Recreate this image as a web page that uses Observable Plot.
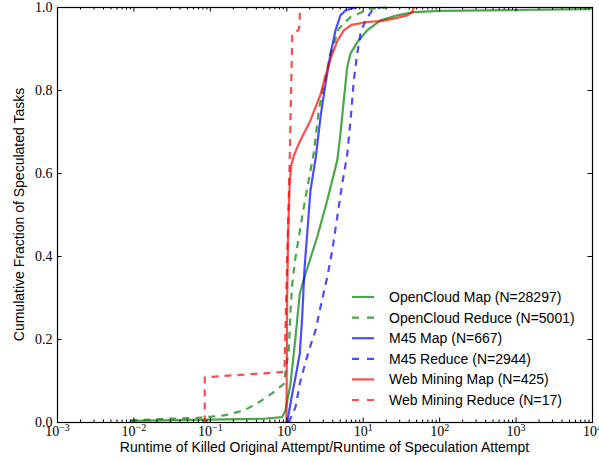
<!DOCTYPE html>
<html><head><meta charset="utf-8">
<script src="https://cdn.jsdelivr.net/npm/d3@7"></script>
<script src="https://cdn.jsdelivr.net/npm/@observablehq/plot@0.6"></script>
<style>
body{margin:0;background:#fff;}
#chart{position:relative;width:599px;height:461px;overflow:hidden;}
</style></head><body><div id="chart"></div>
<script>
// ---- data ----
const seriesNames = [
  "OpenCloud Map (N=28297)",
  "OpenCloud Reduce (N=5001)",
  "M45 Map (N=667)",
  "M45 Reduce (N=2944)",
  "Web Mining Map (N=425)",
  "Web Mining Reduce (N=17)"
];
const seriesColors = ["#008000", "#008000", "#0000ff", "#0000ff", "#ff0000", "#ff0000"];
const seriesDashed = [false, true, false, true, false, true];

const ocMapX = [0.009, 0.1, 0.5, 0.87, 0.96, 1.12, 1.30, 1.48, 1.76, 2.5, 3.38, 4.57, 5.04, 5.57, 6.17, 6.82, 8.34, 11.3, 16.8, 27.9, 45.9, 100, 1000, 9000, 10000];
const ocMapY = [0.004, 0.007, 0.009, 0.013, 0.029, 0.094, 0.205, 0.311, 0.359, 0.447, 0.535, 0.631, 0.696, 0.776, 0.856, 0.889, 0.916, 0.945, 0.969, 0.981, 0.989, 0.992, 0.994, 0.996, 1.0];

const ocRedX = [0.009, 0.027, 0.067, 0.149, 0.274, 0.41, 0.64, 0.914, 1.06, 1.12, 1.18, 1.30, 1.51, 1.76, 2.04, 2.26, 2.62, 3.21, 3.73, 4.80, 6.82, 9.70, 12.4, 20];
const ocRedY = [0.005, 0.009, 0.011, 0.017, 0.029, 0.046, 0.07, 0.093, 0.173, 0.27, 0.335, 0.398, 0.471, 0.543, 0.607, 0.65, 0.752, 0.832, 0.888, 0.949, 0.977, 0.989, 0.997, 1.0];

const m45MapX = [1.01, 1.18, 1.30, 1.48, 1.59, 1.71, 1.85, 2.04, 2.40, 2.76, 3.21, 3.73, 4.34, 5.04, 5.86, 7.93];
const m45MapY = [0.0, 0.07, 0.109, 0.166, 0.254, 0.374, 0.455, 0.559, 0.64, 0.736, 0.816, 0.888, 0.945, 0.981, 0.993, 1.0];

const m45RedX = [1.06, 1.30, 1.51, 1.94, 2.38, 2.76, 3.38, 3.93, 4.57, 5.31, 6.17, 6.82, 7.53, 8.34, 9.21, 10.7, 13.1, 16.8];
const m45RedY = [0.0, 0.037, 0.101, 0.173, 0.222, 0.278, 0.350, 0.414, 0.495, 0.575, 0.645, 0.728, 0.824, 0.888, 0.937, 0.969, 0.993, 1.0];

const wmMapX = [0.99, 1.01, 1.04, 1.09, 1.14, 1.25, 1.37, 1.51, 1.76, 2.04, 2.38, 2.76, 3.21, 3.8, 4.6, 5.57, 7.0, 11.3, 16.8, 25.1, 37.6, 43.7, 45.9];
const wmMapY = [0.0, 0.3, 0.45, 0.575, 0.619, 0.645, 0.663, 0.680, 0.704, 0.728, 0.760, 0.79, 0.835, 0.88, 0.92, 0.945, 0.958, 0.965, 0.967, 0.973, 0.981, 0.989, 1.0];

const wmRedX = [0.0845, 0.0845, 0.93, 1.09, 1.18, 1.30, 1.42, 1.48, 1.48];
const wmRedY = [0.0, 0.109, 0.122, 0.63, 0.937, 0.941, 0.945, 0.96, 1.0];

const seriesX = [ocMapX, ocRedX, m45MapX, m45RedX, wmMapX, wmRedX];
const seriesY = [ocMapY, ocRedY, m45MapY, m45RedY, wmMapY, wmRedY];

const xMajorTicks = [1e-3, 1e-2, 1e-1, 1e0, 1e1, 1e2, 1e3, 1e4];
const xTickExponents = ["\u22123", "\u22122", "\u22121", "0", "1", "2", "3", "4"];
const yTicks = [0.0, 0.2, 0.4, 0.6, 0.8, 1.0];
const xLabel = "Runtime of Killed Original Attempt/Runtime of Speculation Attempt";
const yLabel = "Cumulative Fraction of Speculated Tasks";

// ---- layout ----
const W = 599, H = 461, mL = 57, mR = 7, mT = 7, mB = 39;
const fh = H - mT - mB, fw = W - mL - mR;
const serif = "'Liberation Serif', 'DejaVu Serif', serif";
const sans = "'Liberation Sans', Arial, sans-serif";

const xMinorTicks = [];
for (let k = -3; k <= 3; k++) for (let m = 2; m <= 9; m++) xMinorTicks.push(m * Math.pow(10, k));

const lineMarks = seriesNames.map((name, i) => {
  const rows = seriesX[i].map((x, j) => ({x, y: seriesY[i][j]}));
  return Plot.line(rows, {
    x: "x", y: "y",
    stroke: seriesColors[i], strokeOpacity: 0.7, strokeWidth: 2.2,
    strokeDasharray: seriesDashed[i] ? "7,6" : null,
    strokeLinejoin: "round", strokeLinecap: "butt"
  });
});

const tickLabel = new Map(xMajorTicks.map((t, i) => [t, xTickExponents[i]]));

const plot = Plot.plot({
  width: W, height: H,
  marginLeft: mL, marginRight: mR, marginTop: mT, marginBottom: mB,
  style: {background: "white", overflow: "visible"},
  x: {type: "log", domain: [1e-3, 1e4]},
  y: {domain: [0, 1]},
  marks: [
    ...lineMarks,
    Plot.ruleX(xMajorTicks, {x: d => d, insetTop: fh - 4.5, stroke: "black", strokeWidth: 1}),
    Plot.ruleX(xMajorTicks, {x: d => d, insetBottom: fh - 4.5, stroke: "black", strokeWidth: 1}),
    Plot.ruleX(xMinorTicks, {x: d => d, insetTop: fh - 2.5, stroke: "black", strokeWidth: 1}),
    Plot.ruleX(xMinorTicks, {x: d => d, insetBottom: fh - 2.5, stroke: "black", strokeWidth: 1}),
    Plot.ruleY(yTicks, {y: d => d, insetRight: fw - 4.5, stroke: "black", strokeWidth: 1}),
    Plot.ruleY(yTicks, {y: d => d, insetLeft: fw - 4.5, stroke: "black", strokeWidth: 1}),
    Plot.frame({stroke: "black", strokeWidth: 1.2}),
    Plot.axisX(xMajorTicks, {tickSize: 0, tickPadding: 4, tickFormat: d => "10^" + tickLabel.get(d), label: null, fontSize: 14}),
    Plot.axisY(yTicks, {tickSize: 0, tickPadding: 5, tickFormat: d => d3.format(".1f")(d), label: null, fontSize: 14})
  ]
});

const svg = d3.select(plot);
svg.selectAll('g[aria-label="x-axis tick label"], g[aria-label="y-axis tick label"]')
  .attr("font-family", serif).attr("font-size", 14).attr("fill", "black");
svg.selectAll('g[aria-label="x-axis tick label"] text').each(function () {
  const t = d3.select(this);
  const s = t.text();
  const parts = s.split("^");
  if (parts.length !== 2) return;
  t.text("");
  t.append("tspan").text(parts[0]);
  t.append("tspan").attr("font-size", 10).attr("dy", "-0.55em").text(parts[1]);
});

// axis titles
svg.append("text")
  .attr("x", mL + fw / 2).attr("y", 452)
  .attr("text-anchor", "middle").attr("font-family", sans).attr("font-size", 14).attr("fill", "black")
  .text(xLabel);
svg.append("text")
  .attr("transform", `translate(19,${mT + fh / 2}) rotate(-90)`)
  .attr("text-anchor", "middle").attr("dominant-baseline", "central")
  .attr("font-family", sans).attr("font-size", 14).attr("fill", "black")
  .text(yLabel);

// legend
const lg = svg.append("g").attr("aria-label", "legend").attr("text-anchor", "start");
seriesNames.forEach((name, i) => {
  const yy = 297 + i * 20.6;
  lg.append("line").attr("x1", 352).attr("x2", 374).attr("y1", yy).attr("y2", yy)
    .attr("stroke", seriesColors[i]).attr("stroke-opacity", 0.7).attr("stroke-width", 2.2)
    .attr("stroke-dasharray", seriesDashed[i] ? "7,8" : null);
  lg.append("text").attr("x", 389).attr("y", yy).attr("dominant-baseline", "central")
    .attr("text-anchor", "start")
    .attr("font-family", sans).attr("font-size", 14).attr("fill", "black").text(name);
});

document.getElementById("chart").appendChild(plot);
</script>
</body></html>
